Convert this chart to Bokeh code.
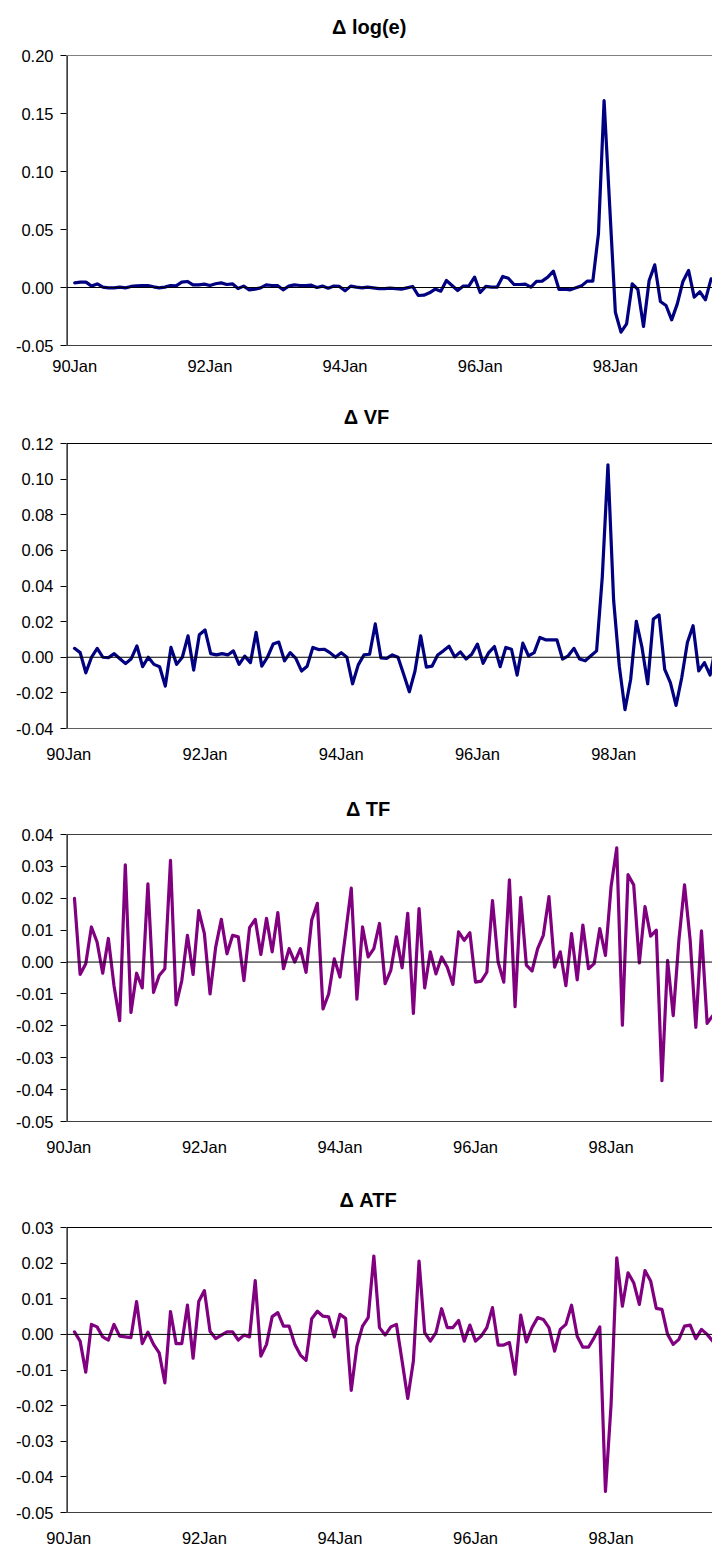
from bokeh.plotting import figure
from bokeh.models import Range1d, FixedTicker, NumeralTickFormatter, Span, Label
from bokeh.layouts import column
from bokeh.embed import file_html
from bokeh.resources import INLINE

# ---------------- data (monthly, 90Jan onward) ----------------
tick_labels = ["90Jan", "92Jan", "94Jan", "96Jan", "98Jan"]
tick_months = [0, 24, 48, 72, 96]

dlog_e = [0.004, 0.0046, 0.0046, 0.0012, 0.0031, 0.0003, -0.0003, -0.0003, 0.0003, -0.0003,
          0.0009, 0.0014, 0.0017, 0.0017, 0.0006, -0.0003, 0.0003, 0.0017, 0.0014, 0.0046,
          0.0052, 0.0023, 0.0023, 0.0029, 0.0017, 0.0032, 0.004, 0.0026, 0.0032, -0.0009,
          0.0012, -0.002, -0.0014, -0.0003, 0.0023, 0.0017, 0.0017, -0.002, 0.0012, 0.0023,
          0.0017, 0.0017, 0.002, 0.0, 0.0012, -0.0006, 0.0012, 0.0009, -0.0029, 0.0012,
          0.0003, -0.0003, 0.0003, -0.0003, -0.0009, -0.0009, -0.0006, -0.0009, -0.0014, -0.0003,
          0.0009, -0.0069, -0.0066, -0.0046, -0.0014, -0.0032, 0.006, 0.0017, -0.0026, 0.0012,
          0.0014, 0.0089, -0.0043, 0.0009, 0.0003, 0.0003, 0.0095, 0.008, 0.0026, 0.0026,
          0.0029, 0.0003, 0.0052, 0.0055, 0.0089, 0.0141, -0.0017, -0.0014, -0.002, -0.0003,
          0.0014, 0.0055, 0.0055, 0.0463, 0.1612, 0.07, -0.0213, -0.0385, -0.0313, 0.0032,
          -0.0017, -0.0336, 0.006, 0.0195, -0.0121, -0.0155, -0.0279, -0.0141, 0.0052, 0.0147,
          -0.0083, -0.0037, -0.0106, 0.0075]

d_vf = [0.005, 0.0026, -0.0087, 0.0, 0.005, 0.0, -0.0002, 0.002, -0.0008, -0.0036,
        -0.0008, 0.0064, -0.0053, 0.0, -0.004, -0.0053, -0.0162, 0.0055, -0.004, 0.0,
        0.012, -0.0072, 0.0126, 0.0153, 0.002, 0.0013, 0.002, 0.0013, 0.0036, -0.004,
        0.0006, -0.003, 0.014, -0.005, 0.0, 0.0074, 0.0085, -0.002, 0.0026, -0.0006,
        -0.0077, -0.005, 0.0055, 0.0043, 0.0045, 0.0026, 0.0, 0.0026, 0.0, -0.0149,
        -0.0043, 0.0013, 0.0017, 0.0187, -0.0004, -0.0006, 0.0013, 0.0, -0.0096, -0.0194,
        -0.0077, 0.012, -0.0055, -0.005, 0.0013, 0.0036, 0.0062, 0.0002, 0.003, -0.001,
        0.0017, 0.0074, -0.0034, 0.0026, 0.006, -0.0053, 0.0055, 0.0045, -0.01, 0.0079,
        0.0008, 0.0026, 0.0111, 0.0098, 0.0098, 0.0098, -0.001, 0.0008, 0.005, -0.001,
        -0.002, 0.0008, 0.0036, 0.045, 0.108, 0.032, -0.005, -0.0294, -0.0125, 0.0202,
        0.0055, -0.0149, 0.0215, 0.0238, -0.0068, -0.0143, -0.027, -0.0115, 0.0083, 0.0177,
        -0.0077, -0.003, -0.01, 0.006]

d_tf = [0.020, -0.0039, -0.0005, 0.011, 0.0063, -0.0035, 0.0074, -0.0074, -0.0184, 0.0305,
        -0.0158, -0.0035, -0.0081, 0.0245, -0.0095, -0.0042, -0.0021, 0.0319, -0.0134, -0.0058,
        0.0084, -0.0039, 0.0161, 0.0089, -0.010, 0.0047, 0.0134, 0.0026, 0.0084, 0.0079,
        -0.0058, 0.0108, 0.0134, 0.0024, 0.0137, 0.0032, 0.0155, -0.0021, 0.0042, 0.0,
        0.0042, -0.0032, 0.0132, 0.0184, -0.0147, -0.010, 0.001, -0.0047, 0.009, 0.0232,
        -0.0116, 0.011, 0.0016, 0.0042, 0.0121, -0.0068, -0.0026, 0.0079, -0.0018, 0.0153,
        -0.0161, 0.0168, -0.0081, 0.0032, -0.0037, 0.0016, -0.0016, -0.007, 0.0095, 0.0068,
        0.0092, -0.0063, -0.006, -0.0032, 0.0193, 0.0, -0.0063, 0.0258, -0.014, 0.0203,
        -0.001, -0.0028, 0.0042, 0.0084, 0.0205, -0.0016, 0.0032, -0.0074, 0.0089, -0.0056,
        0.0116, -0.0021, -0.0005, 0.0105, 0.0021, 0.0237, 0.0358, -0.0198, 0.0274, 0.0242,
        -0.0003, 0.0174, 0.0081, 0.010, -0.0372, 0.0005, -0.0168, 0.0068, 0.0242, 0.0068,
        -0.0205, 0.0098, -0.0192, -0.0168]

d_atf = [0.0007, -0.0019, -0.0106, 0.0028, 0.0021, -0.0007, -0.0016, 0.0028, -0.0005, -0.0007,
         -0.0009, 0.0092, -0.0026, 0.0006, -0.0028, -0.0052, -0.0136, 0.0064, -0.0026, -0.0026,
         0.0082, -0.0067, 0.0092, 0.0123, 0.0009, -0.0012, -0.0002, 0.0007, 0.0007, -0.0016,
         -0.0002, -0.0007, 0.0151, -0.0061, -0.0028, 0.005, 0.0061, 0.0023, 0.0023, -0.0028,
         -0.0058, -0.0073, 0.0044, 0.0065, 0.0051, 0.0049, -0.0007, 0.0056, 0.0045, -0.0157,
         -0.0033, 0.0023, 0.0047, 0.022, 0.0019, -0.0002, 0.0021, 0.0028, -0.0075, -0.018,
         -0.0075, 0.0206, 0.0005, -0.0019, 0.0005, 0.0072, 0.0019, 0.0019, 0.0039, -0.0019,
         0.0026, -0.0019, -0.0005, 0.0019, 0.0075, -0.003, -0.003, -0.0023, -0.0112, 0.0054,
         -0.0021, 0.0019, 0.0047, 0.0042, 0.0019, -0.0047, 0.0014, 0.0028, 0.0082, -0.0005,
         -0.0036, -0.0036, -0.0009, 0.0021, -0.0441, -0.0196, 0.0215, 0.0079, 0.0173, 0.0145,
         0.0084, 0.0179, 0.015, 0.0073, 0.007, 0.0, -0.0028, -0.0014, 0.0023, 0.0026,
         -0.0012, 0.0014, 0.0, -0.0019]

yticks_1 = [-0.05, 0.0, 0.05, 0.10, 0.15, 0.20]
yticks_2 = [-0.04, -0.02, 0.0, 0.02, 0.04, 0.06, 0.08, 0.10, 0.12]
yticks_3 = [-0.05, -0.04, -0.03, -0.02, -0.01, 0.0, 0.01, 0.02, 0.03, 0.04]
yticks_4 = [-0.05, -0.04, -0.03, -0.02, -0.01, 0.0, 0.01, 0.02, 0.03]

NAVY = "#000080"
PURPLE = "#800080"
FONT = "Liberation Sans"
PX_PER_MONTH = 5.675
WIN_W = 712


def panel(title, values, color, yticks, left, top, frame_h, bottom,
          first_off, tick_shift, top_line, bottom_line, x_standoff, title_base):
    ymin, ymax = yticks[0], yticks[-1]
    frame_w = WIN_W - left
    xs = -first_off / PX_PER_MONTH
    xe = xs + frame_w / PX_PER_MONTH
    px_per_y = frame_h / (ymax - ymin)
    ytop = ymax + top / px_per_y          # frame extends to the top of the figure
    p = figure(width=WIN_W, height=top + frame_h + bottom,
               x_range=Range1d(xs, xe), y_range=Range1d(ymin, ytop),
               output_backend="svg", toolbar_location=None,
               min_border_left=left, min_border_right=0,
               min_border_top=0, min_border_bottom=bottom)
    p.outline_line_color = None
    p.xgrid.visible = False
    p.ygrid.visible = False
    p.background_fill_color = "white"
    p.border_fill_color = "white"

    # left spine only between ymin and ymax
    p.segment(x0=[xs], y0=[ymin], x1=[xs], y1=[ymax], line_color="black", line_width=2.5)

    months = list(range(len(values)))
    p.line(months, values, line_color=color, line_width=3.2,
           line_join="round", line_cap="round")

    p.add_layout(Span(location=0, dimension="width", line_color="black", line_width=1))
    p.add_layout(Span(location=ymax, dimension="width", line_color=top_line, line_width=1.2))

    ya = p.yaxis[0]
    ya.ticker = FixedTicker(ticks=yticks)
    ya.formatter = NumeralTickFormatter(format="0.00")
    ya.major_tick_out = 6
    ya.major_tick_in = 0
    ya.minor_tick_line_color = None
    ya.axis_line_color = None
    ya.major_tick_line_color = "black"
    ya.major_label_standoff = 7
    ya.major_label_text_font = FONT
    ya.major_label_text_font_size = "16.5px"
    ya.major_label_text_color = "black"

    xa = p.xaxis[0]
    tpos = [m + tick_shift for m in tick_months]
    xa.ticker = FixedTicker(ticks=tpos)
    xa.major_label_overrides = {t: lab for t, lab in zip(tpos, tick_labels)}
    xa.major_tick_line_color = None
    xa.minor_tick_line_color = None
    xa.major_tick_out = 0
    xa.axis_line_color = bottom_line
    xa.axis_line_width = 1.2
    xa.major_label_standoff = x_standoff
    xa.major_label_text_font = FONT
    xa.major_label_text_font_size = "16.5px"
    xa.major_label_text_color = "black"

    tx = xs + (366 - left) / PX_PER_MONTH
    ty = ytop - title_base / px_per_y
    p.add_layout(Label(x=tx, y=ty, text=title, text_font=FONT, text_font_style="bold",
                       text_font_size="20px", text_align="center",
                       text_baseline="alphabetic", text_color="black"))
    return p


p1 = panel("Δ log(e)", dlog_e, NAVY, yticks_1, 61, 55, 290, 40, 8.3, 0,
           "#808080", "#404040", 11, 26)
p2 = panel("Δ VF", d_vf, NAVY, yticks_2, 66, 58, 285, 47, 8.0, -1,
           "#000000", "#606060", 16, 31)
p3 = panel("Δ TF", d_tf, PURPLE, yticks_3, 63, 59, 287, 44, 8.0, -1,
           "#404040", "#404040", 16, 33)
p4 = panel("Δ ATF", d_atf, PURPLE, yticks_4, 63, 62, 285, 38, 8.0, -1,
           "#000000", "#404040", 16, 34)

layout = column(p1, p2, p3, p4, spacing=0)
open("out.html", "w").write(file_html(layout, INLINE))
